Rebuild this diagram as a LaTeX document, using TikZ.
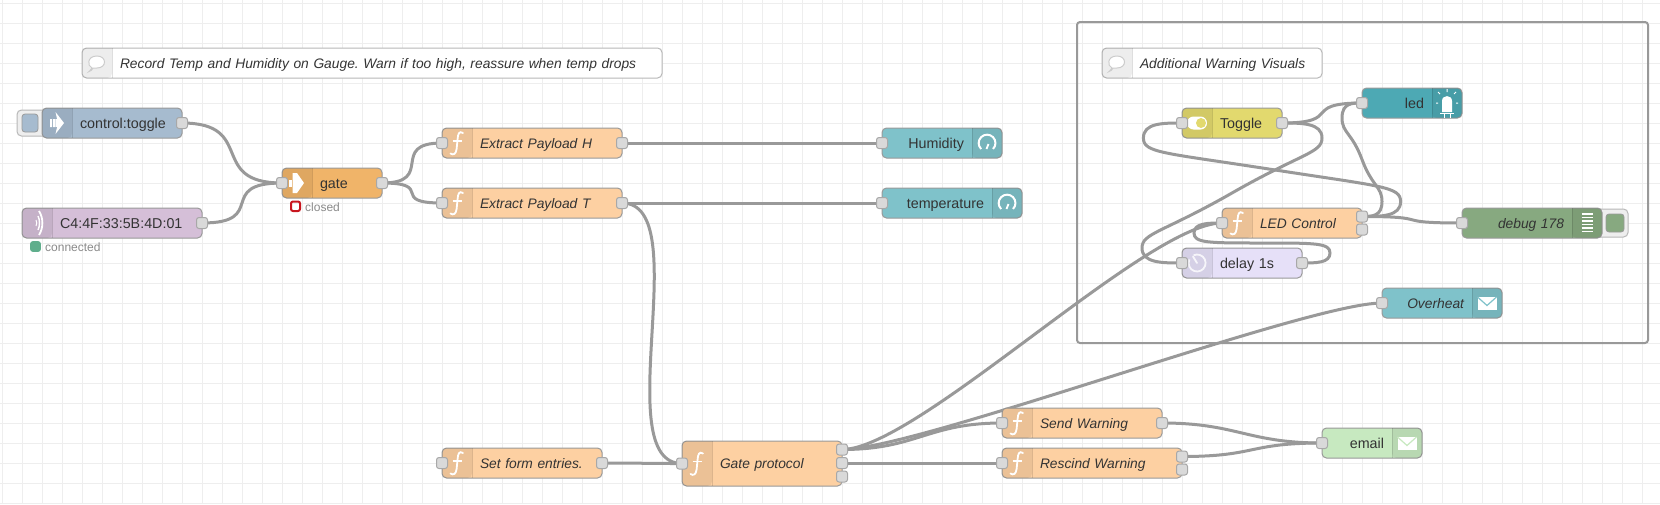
\documentclass[tikz,border=0pt]{standalone}
\usepackage{fontspec}
\setmainfont{Liberation Sans}
\usepackage{tikz}
\usetikzlibrary{backgrounds}
\definecolor{nrline}{HTML}{999999}
\definecolor{nrport}{HTML}{D9D9D9}
\definecolor{nrgridc}{HTML}{EEEEEE}
\definecolor{nrtext}{HTML}{333333}
\definecolor{nrfunc}{HTML}{FDD0A2}
\definecolor{nrinject}{HTML}{A6BBCF}
\definecolor{nrble}{HTML}{D5BFD8}
\definecolor{nrgate}{HTML}{F0B469}
\definecolor{nrdash}{HTML}{7FC2CA}
\definecolor{nrled}{HTML}{4DA9B4}
\definecolor{nrtoggle}{HTML}{E2D96E}
\definecolor{nrdelay}{HTML}{E6E0F8}
\definecolor{nrdebug}{HTML}{87A980}
\definecolor{nrmail}{HTML}{C7E9C0}
\definecolor{nrgreen}{HTML}{5FAE8C}
\definecolor{nrred}{HTML}{C8161F}

\begin{document}
\begin{tikzpicture}[x=1pt,y=-1pt,
    nrbase/.style = {draw=nrline, line width=1pt, rounded corners=4.5pt, anchor=north west,
            minimum height=30pt, inner xsep=0pt, inner ysep=0pt, outer sep=0pt, text=nrtext,
            text height=13pt, text depth=3pt, font=\fontsize{14.3}{16}\selectfont},
    nrleft/.style = {nrbase, text width=#1pt, align=left, execute at begin node={\hspace*{38pt}}},
    nrright/.style = {nrbase, text width=#1pt, align=right, execute at end node={\hspace*{38pt}}},
    nrital/.style = {font=\fontsize{13.8}{16}\selectfont\itshape\frenchspacing},
    nrnote/.style = {nrleft=#1, nrital, draw=nrline!70, fill=white},
    nrport/.style = {draw=nrline!85, fill=nrport, line width=1pt, rounded corners=2.5pt,
            minimum size=11pt, inner sep=0pt, outer sep=0pt},
    nrwire/.style = {draw=nrline, line width=3pt},
    nrgrid/.style = {draw=nrgridc, line width=1pt},
    nrband/.style = {fill=black, fill opacity=.07, rounded corners=4.5pt},
    nrsep/.style = {draw=black, draw opacity=.12, line width=1pt},
    nrstatus/.style = {anchor=west, inner sep=0pt, text=nrline!90!black,
            font=\fontsize{12}{14}\selectfont},
    nrbutton/.style = {draw=nrline!70, fill=nrgridc, line width=1pt, rounded corners=4.5pt},
    nrface/.style = {draw=nrline, line width=.8pt, rounded corners=3pt},
    pics/fnicon/.style = {code={
        \draw[white, line width=1.8pt, line cap=round] (6,-10) .. controls (2,-12.5) and (1,-9) .. (.6,-4)
            -- (-.4,6) .. controls (-1,11) and (-3.5,12.5) .. (-6.5,10.5);
        \draw[white, line width=1.5pt] (-4.5,-2) -- (4.5,-2);}},
    pics/injecticon/.style = {code={
        \fill[white] (-7,-4) rectangle (-5,4) (-4,-4) rectangle (-1.5,4);
        \fill[white] (-1.5,-11) -- (7,0) -- (-1.5,11) -- (1,0) -- cycle;
        \fill[white] (-1.5,-4) rectangle (2,4);}},
    pics/gateicon/.style = {code={
        \fill[white] (-8,-3.5) rectangle (-5.5,3.5);
        \fill[white] (-4.5,-10) -- (0,-10) -- (7,0) -- (0,10) -- (-4.5,10) -- cycle;}},
    pics/bleicon/.style = {code={
        \draw[white, line width=1pt] (-1,-3) .. controls (0,-1) and (0,1) .. (-1,3);
        \draw[white, line width=1.4pt] (1,-7) .. controls (3,-3) and (3,3) .. (1,7);
        \draw[white, line width=1.8pt] (2,-12) .. controls (6.5,-5) and (6.5,5) .. (2,12);}},
    pics/gaugeicon/.style = {code={
        \draw[white, line width=2pt] (6,6) arc[start angle=-45, end angle=225, radius=8.4pt];
        \draw[white, line width=1.8pt] (-.5,6) -- (1.5,1);}},
    pics/ledicon/.style = {code={
        \fill[white] (-5,9) -- (-5,-2) .. controls (-5,-8.5) and (5,-8.5) .. (5,-2) -- (5,9) -- cycle;
        \draw[white, line width=1pt] (-7,10.5) -- (7,10.5) (-3,10.5) -- (-3,14.5) (3,10.5) -- (3,14.5);
        \draw[white, line width=1pt] (0,-14) -- (0,-11) (-9,-11) -- (-7,-9) (9,-11) -- (7,-9)
            (-11,0) -- (-9,0) (11,0) -- (9,0);}},
    pics/switchicon/.style = {code={
        \fill[white, rounded corners=6.5pt] (-10,-6.5) rectangle (10,6.5);
        \fill[nrtoggle] (4,0) circle[radius=5pt];}},
    pics/clockicon/.style = {code={
        \draw[white, opacity=.8, line width=1.8pt] (-3.5,-7.7) arc[start angle=115, end angle=-205, radius=8.5pt];
        \draw[white, opacity=.8, line width=1.8pt, line cap=round] (0,0) -- (-4,-6.5);}},
    pics/mailicon/.style = {code={
        \fill[white] (-9.5,-6.5) rectangle (9.5,6.5);
        \draw[#1, line width=1.2pt] (-9.5,-6) -- (0,2.5) -- (9.5,-6);}},
    pics/debugicon/.style = {code={
        \foreach \yy in {-9,-5.5,...,9}
            \draw[white, line width=1.3pt] (-5.5,\yy) -- (5.5,\yy);}},
    pics/noteicon/.style = {code={
        \draw[nrline!50, fill=white, line width=1pt] (-5,5) .. controls (-10,3) and (-10,-7) .. (0,-7)
            .. controls (10,-7) and (10,5) .. (0,5) .. controls (-2,5) and (-3,5) .. (-4,5)
            .. controls (-5,7) and (-6,8) .. (-8,8.5) .. controls (-6.5,7) and (-5.5,6) .. (-5,5) -- cycle;}}]
    \useasboundingbox (0,0) rectangle (1660,504);
    \begin{scope}[on background layer]
        \fill[white] (0,0) rectangle (1660,504);
        \foreach \gx in {2,22,...,1660}
            \draw[nrgrid] (\gx,0) -- (\gx,504);
        \foreach \gy in {3,23,...,504}
            \draw[nrgrid] (0,\gy) -- (1660,\gy);
    \end{scope}

    % frame and buttons
    \draw[draw=nrline, line width=2pt, rounded corners=3pt] (1077,22) rectangle (1648,343);
    \draw[nrbutton] (17,110) rectangle (50,136);
    \draw[nrface, fill=nrinject] (22,114) rectangle (38,132);
    \draw[nrbutton] (1594,209) rectangle (1628,237);
    \draw[nrface, fill=nrdebug] (1606,214) rectangle (1624,232);

    % notes
    \node [nrnote=580] (noteTemp) at (82,48) {Record Temp and Humidity on Gauge. Warn if too high, reassure when temp drops};
    \node [nrnote=220] (noteWarn) at (1102,48) {Additional Warning Visuals};

    % flow nodes
    \node [nrleft=140, fill=nrinject] (ctrl) at (42,108) {control:toggle};
    \node [nrleft=180, fill=nrble] (ble) at (22,208) {C4:4F:33:5B:4D:01};
    \node [nrleft=100, fill=nrgate] (gate) at (282,168) {gate};
    \node [nrleft=180, nrital, fill=nrfunc] (fnH) at (442,128) {Extract Payload H};
    \node [nrleft=180, nrital, fill=nrfunc] (fnT) at (442,188) {Extract Payload T};
    \node [nrright=120, fill=nrdash] (humid) at (882,128) {Humidity};
    \node [nrright=140, fill=nrdash] (temp) at (882,188) {temperature};
    \node [nrleft=160, nrital, fill=nrfunc] (fnForm) at (442,448) {Set form entries.};
    \node [nrleft=160, nrital, fill=nrfunc, minimum height=45pt] (fnGate) at (682,441) {Gate protocol};
    \node [nrleft=160, nrital, fill=nrfunc] (fnSend) at (1002,408) {Send Warning};
    \node [nrleft=180, nrital, fill=nrfunc] (fnRescind) at (1002,448) {Rescind Warning};
    \node [nrright=100, fill=nrmail] (email) at (1322,428) {email};
    \node [nrright=120, nrital, fill=nrdash] (overheat) at (1382,288) {Overheat};
    \node [nrleft=100, fill=nrtoggle] (toggle) at (1182,108) {Toggle};
    \node [nrright=100, fill=nrled] (led) at (1362,88) {led};
    \node [nrleft=140, nrital, fill=nrfunc] (fnLed) at (1222,208) {LED Control};
    \node [nrleft=120, fill=nrdelay] (delay) at (1182,248) {delay 1s};
    \node [nrright=140, nrital, fill=nrdebug] (debug) at (1462,208) {debug 178};

    % icon bands
    \foreach \n in {noteTemp,noteWarn,ctrl,ble,gate,fnH,fnT,fnForm,fnGate,fnSend,fnRescind,toggle,fnLed,delay} {
        \fill[nrband] ([xshift=30pt]\n.north west) -- (\n.north west) -- (\n.south west)
            -- ([xshift=30pt]\n.south west) [sharp corners] -- cycle;
        \draw[nrsep] ([xshift=30pt]\n.north west) -- ([xshift=30pt]\n.south west);
    }
    \foreach \n in {humid,temp,email,overheat,led,debug} {
        \fill[nrband] ([xshift=-30pt]\n.north east) -- (\n.north east) -- (\n.south east)
            -- ([xshift=-30pt]\n.south east) [sharp corners] -- cycle;
        \draw[nrsep] ([xshift=-30pt]\n.north east) -- ([xshift=-30pt]\n.south east);
    }

    % icons
    \foreach \n in {fnH,fnT,fnForm,fnGate,fnSend,fnRescind,fnLed}
        \pic at ([xshift=15pt]\n.west) {fnicon};
    \pic at ([xshift=15pt]ctrl.west) {injecticon};
    \pic at ([xshift=15pt]ble.west) {bleicon};
    \pic at ([xshift=15pt]gate.west) {gateicon};
    \pic at ([xshift=15pt]noteTemp.west) {noteicon};
    \pic at ([xshift=15pt]noteWarn.west) {noteicon};
    \pic at ([xshift=15pt]toggle.west) {switchicon};
    \pic at ([xshift=15pt]delay.west) {clockicon};
    \pic at ([xshift=-15pt]humid.east) {gaugeicon};
    \pic at ([xshift=-15pt]temp.east) {gaugeicon};
    \pic at ([xshift=-15pt]led.east) {ledicon};
    \pic at ([xshift=-15pt]debug.east) {debugicon};
    \pic at ([xshift=-15pt]email.east) {mailicon=nrmail};
    \pic at ([xshift=-15pt]overheat.east) {mailicon=nrdash};

    % status lines
    \draw[nrface, rounded corners=2.5pt, draw=nrgreen, fill=nrgreen] (30.5,241.5) rectangle (40.5,251.5);
    \node [nrstatus] (bleState) at (45,247) {connected};
    \draw[nrface, draw=nrred, line width=2pt, rounded corners=2pt] (291,201.5) rectangle (300,211);
    \node [nrstatus] (gateState) at (305,207) {closed};

    % ports
    \foreach \n in {gate,fnH,fnT,humid,temp,fnForm,fnGate,fnSend,fnRescind,email,overheat,toggle,led,fnLed,delay,debug}
        \node [nrport] (\n-in) at (\n.west) {};
    \foreach \n in {ctrl,ble,gate,fnH,fnT,fnForm,fnSend,toggle,delay}
        \node [nrport] (\n-out) at (\n.east) {};
    \node [nrport] (fnGate-outA) at (842,449.5) {};
    \node [nrport] (fnGate-outB) at (842,463) {};
    \node [nrport] (fnGate-outC) at (842,476.5) {};
    \node [nrport] (fnRescind-outA) at (1182,456.5) {};
    \node [nrport] (fnRescind-outB) at (1182,469.5) {};
    \node [nrport] (fnLed-outA) at (1362,216.5) {};
    \node [nrport] (fnLed-outB) at (1362,229.5) {};

    \begin{scope}[on background layer]
        % forward wires: from, to, handle length
        \foreach \a/\b/\s in {ctrl-out/gate-in/75, ble-out/gate-in/67, gate-out/fnH-in/54, gate-out/fnT-in/54,
                fnH-out/humid-in/75, fnT-out/temp-in/75, fnT-out/fnGate-in/75, fnForm-out/fnGate-in/60,
                fnGate-outA/fnSend-in/75, fnGate-outA/overheat-in/75, fnGate-outA/fnLed-in/75,
                fnGate-outB/fnRescind-in/75, fnSend-out/email-in/75, fnRescind-outA/email-in/75,
                toggle-out/led-in/62, fnLed-outA/debug-in/75}
            \draw[nrwire] (\a.center) .. controls +(\s,0) and +(-\s,0) .. (\b.center);

        % backward wires
        \draw[nrwire] (fnLed-outA.center) .. controls (1381.3,216.5) and (1400.6,216.5) .. (1400.6,201.5)
            .. controls (1400.6,186.5) and (1381.3,186.5) .. (1272,169.5)
            .. controls (1162.7,152.5) and (1143.4,153) .. (1143.4,138)
            .. controls (1143.4,123) and (1162.7,123) .. (toggle-in.center);
        \draw[nrwire] (fnLed-outA.center) .. controls (1372,216.5) and (1382,216.5) .. (1382,201.5)
            .. controls (1382,186.5) and (1372,186.5) .. (1362,159.5)
            .. controls (1352,132.5) and (1342,133) .. (1342,118)
            .. controls (1342,103) and (1352,103) .. (led-in.center);
        \draw[nrwire] (toggle-out.center) .. controls (1302,123) and (1322,123) .. (1322,138)
            .. controls (1322,153) and (1302,153) .. (1232,193)
            .. controls (1162,233) and (1142,233) .. (1142,248)
            .. controls (1142,263) and (1162,263) .. (delay-in.center);
        \draw[nrwire] (delay-out.center) .. controls (1316,263) and (1330,263) .. (1330,253)
            .. controls (1330,243) and (1316,243) .. (1262,243)
            .. controls (1208,243) and (1194,243) .. (1194,233)
            .. controls (1194,223) and (1208,223) .. (fnLed-in.center);
    \end{scope}
\end{tikzpicture}
\end{document}
